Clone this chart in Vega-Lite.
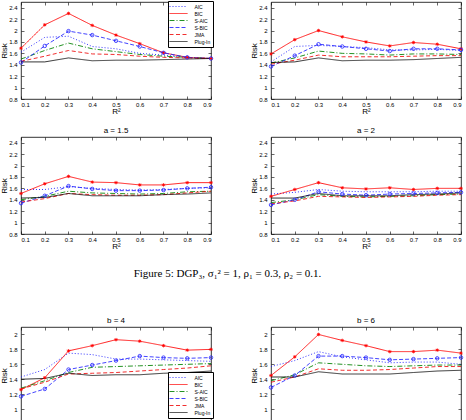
{
"$schema":"https://vega.github.io/schema/vega-lite/v6.json",
"background":"white",
"padding":{"left":0,"top":0,"right":0,"bottom":0},
"config":{
 "view":{"stroke":"black","strokeWidth":0.8},
 "font":"Liberation Sans",
 "axis":{"domain":false,"grid":false,"tickColor":"black","tickSize":-3,"tickWidth":0.6,"labelFontSize":6,"labelColor":"black","titleFontSize":8,"titleFontWeight":"normal","titleColor":"black","titlePadding":0,"labelFont":"Liberation Sans","titleFont":"Liberation Sans"},
 "axisX":{"labelPadding":5},
 "axisY":{"labelPadding":7},
 "title":{"fontSize":8,"fontWeight":"normal","offset":2,"color":"black","font":"Liberation Sans"}
},
"resolve":{"scale":{"color":"independent","strokeDash":"independent","strokeWidth":"independent"}},
"spacing":10,
"datasets":{"d":[
{"p":1,"m":"AIC","x":0.1,"y":1.62},{"p":1,"m":"AIC","x":0.2,"y":1.88},{"p":1,"m":"AIC","x":0.3,"y":1.90},{"p":1,"m":"AIC","x":0.4,"y":1.72},{"p":1,"m":"AIC","x":0.5,"y":1.68},{"p":1,"m":"AIC","x":0.6,"y":1.60},{"p":1,"m":"AIC","x":0.7,"y":1.57},{"p":1,"m":"AIC","x":0.8,"y":1.53},{"p":1,"m":"AIC","x":0.9,"y":1.51},
{"p":1,"m":"BIC","x":0.1,"y":1.69},{"p":1,"m":"BIC","x":0.2,"y":2.10},{"p":1,"m":"BIC","x":0.3,"y":2.30},{"p":1,"m":"BIC","x":0.4,"y":2.09},{"p":1,"m":"BIC","x":0.5,"y":1.92},{"p":1,"m":"BIC","x":0.6,"y":1.77},{"p":1,"m":"BIC","x":0.7,"y":1.61},{"p":1,"m":"BIC","x":0.8,"y":1.53},{"p":1,"m":"BIC","x":0.9,"y":1.51},
{"p":1,"m":"S-AIC","x":0.1,"y":1.50},{"p":1,"m":"S-AIC","x":0.2,"y":1.65},{"p":1,"m":"S-AIC","x":0.3,"y":1.78},{"p":1,"m":"S-AIC","x":0.4,"y":1.68},{"p":1,"m":"S-AIC","x":0.5,"y":1.63},{"p":1,"m":"S-AIC","x":0.6,"y":1.58},{"p":1,"m":"S-AIC","x":0.7,"y":1.55},{"p":1,"m":"S-AIC","x":0.8,"y":1.53},{"p":1,"m":"S-AIC","x":0.9,"y":1.51},
{"p":1,"m":"S-BIC","x":0.1,"y":1.44},{"p":1,"m":"S-BIC","x":0.2,"y":1.73},{"p":1,"m":"S-BIC","x":0.3,"y":1.99},{"p":1,"m":"S-BIC","x":0.4,"y":1.92},{"p":1,"m":"S-BIC","x":0.5,"y":1.82},{"p":1,"m":"S-BIC","x":0.6,"y":1.72},{"p":1,"m":"S-BIC","x":0.7,"y":1.61},{"p":1,"m":"S-BIC","x":0.8,"y":1.53},{"p":1,"m":"S-BIC","x":0.9,"y":1.51},
{"p":1,"m":"JMA","x":0.1,"y":1.46},{"p":1,"m":"JMA","x":0.2,"y":1.55},{"p":1,"m":"JMA","x":0.3,"y":1.65},{"p":1,"m":"JMA","x":0.4,"y":1.59},{"p":1,"m":"JMA","x":0.5,"y":1.58},{"p":1,"m":"JMA","x":0.6,"y":1.55},{"p":1,"m":"JMA","x":0.7,"y":1.53},{"p":1,"m":"JMA","x":0.8,"y":1.52},{"p":1,"m":"JMA","x":0.9,"y":1.51},
{"p":1,"m":"Plug-In","x":0.1,"y":1.45},{"p":1,"m":"Plug-In","x":0.2,"y":1.45},{"p":1,"m":"Plug-In","x":0.3,"y":1.52},{"p":1,"m":"Plug-In","x":0.4,"y":1.47},{"p":1,"m":"Plug-In","x":0.5,"y":1.48},{"p":1,"m":"Plug-In","x":0.6,"y":1.48},{"p":1,"m":"Plug-In","x":0.7,"y":1.49},{"p":1,"m":"Plug-In","x":0.8,"y":1.50},{"p":1,"m":"Plug-In","x":0.9,"y":1.51},
{"p":2,"m":"AIC","x":0.1,"y":1.45},{"p":2,"m":"AIC","x":0.2,"y":1.72},{"p":2,"m":"AIC","x":0.3,"y":1.74},{"p":2,"m":"AIC","x":0.4,"y":1.72},{"p":2,"m":"AIC","x":0.5,"y":1.70},{"p":2,"m":"AIC","x":0.6,"y":1.66},{"p":2,"m":"AIC","x":0.7,"y":1.66},{"p":2,"m":"AIC","x":0.8,"y":1.67},{"p":2,"m":"AIC","x":0.9,"y":1.65},
{"p":2,"m":"BIC","x":0.1,"y":1.59},{"p":2,"m":"BIC","x":0.2,"y":1.84},{"p":2,"m":"BIC","x":0.3,"y":2.00},{"p":2,"m":"BIC","x":0.4,"y":1.89},{"p":2,"m":"BIC","x":0.5,"y":1.80},{"p":2,"m":"BIC","x":0.6,"y":1.73},{"p":2,"m":"BIC","x":0.7,"y":1.79},{"p":2,"m":"BIC","x":0.8,"y":1.76},{"p":2,"m":"BIC","x":0.9,"y":1.68},
{"p":2,"m":"S-AIC","x":0.1,"y":1.43},{"p":2,"m":"S-AIC","x":0.2,"y":1.52},{"p":2,"m":"S-AIC","x":0.3,"y":1.64},{"p":2,"m":"S-AIC","x":0.4,"y":1.60},{"p":2,"m":"S-AIC","x":0.5,"y":1.59},{"p":2,"m":"S-AIC","x":0.6,"y":1.57},{"p":2,"m":"S-AIC","x":0.7,"y":1.59},{"p":2,"m":"S-AIC","x":0.8,"y":1.59},{"p":2,"m":"S-AIC","x":0.9,"y":1.58},
{"p":2,"m":"S-BIC","x":0.1,"y":1.37},{"p":2,"m":"S-BIC","x":0.2,"y":1.56},{"p":2,"m":"S-BIC","x":0.3,"y":1.76},{"p":2,"m":"S-BIC","x":0.4,"y":1.72},{"p":2,"m":"S-BIC","x":0.5,"y":1.68},{"p":2,"m":"S-BIC","x":0.6,"y":1.64},{"p":2,"m":"S-BIC","x":0.7,"y":1.68},{"p":2,"m":"S-BIC","x":0.8,"y":1.68},{"p":2,"m":"S-BIC","x":0.9,"y":1.66},
{"p":2,"m":"JMA","x":0.1,"y":1.41},{"p":2,"m":"JMA","x":0.2,"y":1.48},{"p":2,"m":"JMA","x":0.3,"y":1.57},{"p":2,"m":"JMA","x":0.4,"y":1.54},{"p":2,"m":"JMA","x":0.5,"y":1.54},{"p":2,"m":"JMA","x":0.6,"y":1.54},{"p":2,"m":"JMA","x":0.7,"y":1.55},{"p":2,"m":"JMA","x":0.8,"y":1.56},{"p":2,"m":"JMA","x":0.9,"y":1.56},
{"p":2,"m":"Plug-In","x":0.1,"y":1.44},{"p":2,"m":"Plug-In","x":0.2,"y":1.45},{"p":2,"m":"Plug-In","x":0.3,"y":1.52},{"p":2,"m":"Plug-In","x":0.4,"y":1.47},{"p":2,"m":"Plug-In","x":0.5,"y":1.48},{"p":2,"m":"Plug-In","x":0.6,"y":1.48},{"p":2,"m":"Plug-In","x":0.7,"y":1.49},{"p":2,"m":"Plug-In","x":0.8,"y":1.51},{"p":2,"m":"Plug-In","x":0.9,"y":1.53},
{"p":3,"m":"AIC","x":0.1,"y":1.58},{"p":3,"m":"AIC","x":0.2,"y":1.58},{"p":3,"m":"AIC","x":0.3,"y":1.63},{"p":3,"m":"AIC","x":0.4,"y":1.60},{"p":3,"m":"AIC","x":0.5,"y":1.58},{"p":3,"m":"AIC","x":0.6,"y":1.57},{"p":3,"m":"AIC","x":0.7,"y":1.58},{"p":3,"m":"AIC","x":0.8,"y":1.60},{"p":3,"m":"AIC","x":0.9,"y":1.61},
{"p":3,"m":"BIC","x":0.1,"y":1.51},{"p":3,"m":"BIC","x":0.2,"y":1.68},{"p":3,"m":"BIC","x":0.3,"y":1.81},{"p":3,"m":"BIC","x":0.4,"y":1.71},{"p":3,"m":"BIC","x":0.5,"y":1.70},{"p":3,"m":"BIC","x":0.6,"y":1.66},{"p":3,"m":"BIC","x":0.7,"y":1.66},{"p":3,"m":"BIC","x":0.8,"y":1.70},{"p":3,"m":"BIC","x":0.9,"y":1.70},
{"p":3,"m":"S-AIC","x":0.1,"y":1.40},{"p":3,"m":"S-AIC","x":0.2,"y":1.46},{"p":3,"m":"S-AIC","x":0.3,"y":1.55},{"p":3,"m":"S-AIC","x":0.4,"y":1.52},{"p":3,"m":"S-AIC","x":0.5,"y":1.51},{"p":3,"m":"S-AIC","x":0.6,"y":1.50},{"p":3,"m":"S-AIC","x":0.7,"y":1.51},{"p":3,"m":"S-AIC","x":0.8,"y":1.54},{"p":3,"m":"S-AIC","x":0.9,"y":1.55},
{"p":3,"m":"S-BIC","x":0.1,"y":1.34},{"p":3,"m":"S-BIC","x":0.2,"y":1.47},{"p":3,"m":"S-BIC","x":0.3,"y":1.64},{"p":3,"m":"S-BIC","x":0.4,"y":1.59},{"p":3,"m":"S-BIC","x":0.5,"y":1.56},{"p":3,"m":"S-BIC","x":0.6,"y":1.56},{"p":3,"m":"S-BIC","x":0.7,"y":1.57},{"p":3,"m":"S-BIC","x":0.8,"y":1.60},{"p":3,"m":"S-BIC","x":0.9,"y":1.62},
{"p":3,"m":"JMA","x":0.1,"y":1.36},{"p":3,"m":"JMA","x":0.2,"y":1.42},{"p":3,"m":"JMA","x":0.3,"y":1.51},{"p":3,"m":"JMA","x":0.4,"y":1.49},{"p":3,"m":"JMA","x":0.5,"y":1.48},{"p":3,"m":"JMA","x":0.6,"y":1.48},{"p":3,"m":"JMA","x":0.7,"y":1.49},{"p":3,"m":"JMA","x":0.8,"y":1.52},{"p":3,"m":"JMA","x":0.9,"y":1.55},
{"p":3,"m":"Plug-In","x":0.1,"y":1.43},{"p":3,"m":"Plug-In","x":0.2,"y":1.44},{"p":3,"m":"Plug-In","x":0.3,"y":1.51},{"p":3,"m":"Plug-In","x":0.4,"y":1.47},{"p":3,"m":"Plug-In","x":0.5,"y":1.47},{"p":3,"m":"Plug-In","x":0.6,"y":1.47},{"p":3,"m":"Plug-In","x":0.7,"y":1.49},{"p":3,"m":"Plug-In","x":0.8,"y":1.50},{"p":3,"m":"Plug-In","x":0.9,"y":1.52},
{"p":4,"m":"AIC","x":0.1,"y":1.50},{"p":4,"m":"AIC","x":0.2,"y":1.53},{"p":4,"m":"AIC","x":0.3,"y":1.58},{"p":4,"m":"AIC","x":0.4,"y":1.55},{"p":4,"m":"AIC","x":0.5,"y":1.54},{"p":4,"m":"AIC","x":0.6,"y":1.54},{"p":4,"m":"AIC","x":0.7,"y":1.54},{"p":4,"m":"AIC","x":0.8,"y":1.55},{"p":4,"m":"AIC","x":0.9,"y":1.55},
{"p":4,"m":"BIC","x":0.1,"y":1.46},{"p":4,"m":"BIC","x":0.2,"y":1.58},{"p":4,"m":"BIC","x":0.3,"y":1.70},{"p":4,"m":"BIC","x":0.4,"y":1.61},{"p":4,"m":"BIC","x":0.5,"y":1.59},{"p":4,"m":"BIC","x":0.6,"y":1.61},{"p":4,"m":"BIC","x":0.7,"y":1.58},{"p":4,"m":"BIC","x":0.8,"y":1.60},{"p":4,"m":"BIC","x":0.9,"y":1.60},
{"p":4,"m":"S-AIC","x":0.1,"y":1.35},{"p":4,"m":"S-AIC","x":0.2,"y":1.40},{"p":4,"m":"S-AIC","x":0.3,"y":1.49},{"p":4,"m":"S-AIC","x":0.4,"y":1.46},{"p":4,"m":"S-AIC","x":0.5,"y":1.45},{"p":4,"m":"S-AIC","x":0.6,"y":1.46},{"p":4,"m":"S-AIC","x":0.7,"y":1.47},{"p":4,"m":"S-AIC","x":0.8,"y":1.49},{"p":4,"m":"S-AIC","x":0.9,"y":1.50},
{"p":4,"m":"S-BIC","x":0.1,"y":1.31},{"p":4,"m":"S-BIC","x":0.2,"y":1.40},{"p":4,"m":"S-BIC","x":0.3,"y":1.54},{"p":4,"m":"S-BIC","x":0.4,"y":1.50},{"p":4,"m":"S-BIC","x":0.5,"y":1.48},{"p":4,"m":"S-BIC","x":0.6,"y":1.50},{"p":4,"m":"S-BIC","x":0.7,"y":1.51},{"p":4,"m":"S-BIC","x":0.8,"y":1.52},{"p":4,"m":"S-BIC","x":0.9,"y":1.53},
{"p":4,"m":"JMA","x":0.1,"y":1.33},{"p":4,"m":"JMA","x":0.2,"y":1.38},{"p":4,"m":"JMA","x":0.3,"y":1.46},{"p":4,"m":"JMA","x":0.4,"y":1.45},{"p":4,"m":"JMA","x":0.5,"y":1.44},{"p":4,"m":"JMA","x":0.6,"y":1.45},{"p":4,"m":"JMA","x":0.7,"y":1.46},{"p":4,"m":"JMA","x":0.8,"y":1.48},{"p":4,"m":"JMA","x":0.9,"y":1.49},
{"p":4,"m":"Plug-In","x":0.1,"y":1.43},{"p":4,"m":"Plug-In","x":0.2,"y":1.43},{"p":4,"m":"Plug-In","x":0.3,"y":1.51},{"p":4,"m":"Plug-In","x":0.4,"y":1.47},{"p":4,"m":"Plug-In","x":0.5,"y":1.47},{"p":4,"m":"Plug-In","x":0.6,"y":1.47},{"p":4,"m":"Plug-In","x":0.7,"y":1.49},{"p":4,"m":"Plug-In","x":0.8,"y":1.50},{"p":4,"m":"Plug-In","x":0.9,"y":1.52},
{"p":5,"m":"AIC","x":0.1,"y":1.43},{"p":5,"m":"AIC","x":0.2,"y":1.53},{"p":5,"m":"AIC","x":0.3,"y":1.75},{"p":5,"m":"AIC","x":0.4,"y":1.73},{"p":5,"m":"AIC","x":0.5,"y":1.67},{"p":5,"m":"AIC","x":0.6,"y":1.67},{"p":5,"m":"AIC","x":0.7,"y":1.66},{"p":5,"m":"AIC","x":0.8,"y":1.65},{"p":5,"m":"AIC","x":0.9,"y":1.64},
{"p":5,"m":"BIC","x":0.1,"y":1.26},{"p":5,"m":"BIC","x":0.2,"y":1.42},{"p":5,"m":"BIC","x":0.3,"y":1.78},{"p":5,"m":"BIC","x":0.4,"y":1.85},{"p":5,"m":"BIC","x":0.5,"y":1.93},{"p":5,"m":"BIC","x":0.6,"y":1.91},{"p":5,"m":"BIC","x":0.7,"y":1.85},{"p":5,"m":"BIC","x":0.8,"y":1.79},{"p":5,"m":"BIC","x":0.9,"y":1.80},
{"p":5,"m":"S-AIC","x":0.1,"y":1.28},{"p":5,"m":"S-AIC","x":0.2,"y":1.38},{"p":5,"m":"S-AIC","x":0.3,"y":1.49},{"p":5,"m":"S-AIC","x":0.4,"y":1.56},{"p":5,"m":"S-AIC","x":0.5,"y":1.57},{"p":5,"m":"S-AIC","x":0.6,"y":1.58},{"p":5,"m":"S-AIC","x":0.7,"y":1.59},{"p":5,"m":"S-AIC","x":0.8,"y":1.60},{"p":5,"m":"S-AIC","x":0.9,"y":1.61},
{"p":5,"m":"S-BIC","x":0.1,"y":1.17},{"p":5,"m":"S-BIC","x":0.2,"y":1.27},{"p":5,"m":"S-BIC","x":0.3,"y":1.53},{"p":5,"m":"S-BIC","x":0.4,"y":1.59},{"p":5,"m":"S-BIC","x":0.5,"y":1.65},{"p":5,"m":"S-BIC","x":0.6,"y":1.71},{"p":5,"m":"S-BIC","x":0.7,"y":1.69},{"p":5,"m":"S-BIC","x":0.8,"y":1.68},{"p":5,"m":"S-BIC","x":0.9,"y":1.69},
{"p":5,"m":"JMA","x":0.1,"y":1.27},{"p":5,"m":"JMA","x":0.2,"y":1.36},{"p":5,"m":"JMA","x":0.3,"y":1.47},{"p":5,"m":"JMA","x":0.4,"y":1.48},{"p":5,"m":"JMA","x":0.5,"y":1.49},{"p":5,"m":"JMA","x":0.6,"y":1.51},{"p":5,"m":"JMA","x":0.7,"y":1.53},{"p":5,"m":"JMA","x":0.8,"y":1.55},{"p":5,"m":"JMA","x":0.9,"y":1.58},
{"p":5,"m":"Plug-In","x":0.1,"y":1.40},{"p":5,"m":"Plug-In","x":0.2,"y":1.41},{"p":5,"m":"Plug-In","x":0.3,"y":1.48},{"p":5,"m":"Plug-In","x":0.4,"y":1.45},{"p":5,"m":"Plug-In","x":0.5,"y":1.46},{"p":5,"m":"Plug-In","x":0.6,"y":1.46},{"p":5,"m":"Plug-In","x":0.7,"y":1.48},{"p":5,"m":"Plug-In","x":0.8,"y":1.49},{"p":5,"m":"Plug-In","x":0.9,"y":1.51},
{"p":6,"m":"AIC","x":0.1,"y":1.57},{"p":6,"m":"AIC","x":0.2,"y":1.65},{"p":6,"m":"AIC","x":0.3,"y":1.77},{"p":6,"m":"AIC","x":0.4,"y":1.70},{"p":6,"m":"AIC","x":0.5,"y":1.66},{"p":6,"m":"AIC","x":0.6,"y":1.62},{"p":6,"m":"AIC","x":0.7,"y":1.63},{"p":6,"m":"AIC","x":0.8,"y":1.63},{"p":6,"m":"AIC","x":0.9,"y":1.60},
{"p":6,"m":"BIC","x":0.1,"y":1.45},{"p":6,"m":"BIC","x":0.2,"y":1.70},{"p":6,"m":"BIC","x":0.3,"y":2.00},{"p":6,"m":"BIC","x":0.4,"y":1.92},{"p":6,"m":"BIC","x":0.5,"y":1.85},{"p":6,"m":"BIC","x":0.6,"y":1.77},{"p":6,"m":"BIC","x":0.7,"y":1.77},{"p":6,"m":"BIC","x":0.8,"y":1.79},{"p":6,"m":"BIC","x":0.9,"y":1.75},
{"p":6,"m":"S-AIC","x":0.1,"y":1.38},{"p":6,"m":"S-AIC","x":0.2,"y":1.46},{"p":6,"m":"S-AIC","x":0.3,"y":1.62},{"p":6,"m":"S-AIC","x":0.4,"y":1.60},{"p":6,"m":"S-AIC","x":0.5,"y":1.58},{"p":6,"m":"S-AIC","x":0.6,"y":1.57},{"p":6,"m":"S-AIC","x":0.7,"y":1.58},{"p":6,"m":"S-AIC","x":0.8,"y":1.59},{"p":6,"m":"S-AIC","x":0.9,"y":1.59},
{"p":6,"m":"S-BIC","x":0.1,"y":1.29},{"p":6,"m":"S-BIC","x":0.2,"y":1.45},{"p":6,"m":"S-BIC","x":0.3,"y":1.71},{"p":6,"m":"S-BIC","x":0.4,"y":1.71},{"p":6,"m":"S-BIC","x":0.5,"y":1.69},{"p":6,"m":"S-BIC","x":0.6,"y":1.66},{"p":6,"m":"S-BIC","x":0.7,"y":1.67},{"p":6,"m":"S-BIC","x":0.8,"y":1.68},{"p":6,"m":"S-BIC","x":0.9,"y":1.69},
{"p":6,"m":"JMA","x":0.1,"y":1.36},{"p":6,"m":"JMA","x":0.2,"y":1.43},{"p":6,"m":"JMA","x":0.3,"y":1.54},{"p":6,"m":"JMA","x":0.4,"y":1.52},{"p":6,"m":"JMA","x":0.5,"y":1.52},{"p":6,"m":"JMA","x":0.6,"y":1.53},{"p":6,"m":"JMA","x":0.7,"y":1.55},{"p":6,"m":"JMA","x":0.8,"y":1.57},{"p":6,"m":"JMA","x":0.9,"y":1.57},
{"p":6,"m":"Plug-In","x":0.1,"y":1.43},{"p":6,"m":"Plug-In","x":0.2,"y":1.43},{"p":6,"m":"Plug-In","x":0.3,"y":1.50},{"p":6,"m":"Plug-In","x":0.4,"y":1.47},{"p":6,"m":"Plug-In","x":0.5,"y":1.47},{"p":6,"m":"Plug-In","x":0.6,"y":1.47},{"p":6,"m":"Plug-In","x":0.7,"y":1.49},{"p":6,"m":"Plug-In","x":0.8,"y":1.51},{"p":6,"m":"Plug-In","x":0.9,"y":1.52}
]},
"data":{"name":"d"},
"vconcat":[
{"hconcat":[
 {"width":190,"height":97,"transform":[{"filter":"datum.p == 1"}],
  "layer":[
   {"mark":{"type":"line","clip":true},
    "encoding":{
     "x":{"field":"x","type":"quantitative","scale":{"domain":[0.1,0.9],"nice":false,"zero":false},"axis":{"title":"R²","values":[0.1,0.2,0.3,0.4,0.5,0.6,0.7,0.8,0.9],"format":"~g"}},
     "y":{"field":"y","type":"quantitative","scale":{"domain":[0.8,2.5],"nice":false,"zero":false},"axis":{"title":"Risk","values":[0.8,1,1.2,1.4,1.6,1.8,2,2.2,2.4],"format":"~g"}},
     "color":{"field":"m","type":"nominal","scale":{"domain":["AIC","BIC","S-AIC","S-BIC","JMA","Plug-In"],"range":["#2020ff","#ff0000","#008000","#2020ff","#ee0000","#000000"]},"legend":{"title":null,"orient":"none","legendX":147,"legendY":-1,"symbolType":"M-3,0L3,0","symbolSize":36,"symbolOffset":5,"labelOffset":12.4,"labelFontSize":5,"strokeColor":"black","fillColor":"white","padding":2,"rowPadding":0,"labelExpr":"datum.label + '  '"}},
     "strokeDash":{"field":"m","type":"nominal","scale":{"domain":["AIC","BIC","S-AIC","S-BIC","JMA","Plug-In"],"range":[[1,2],[1,0],[5,2,1,2],[4,2],[4,2.5],[1,0]]},"legend":{"title":null,"orient":"none","legendX":147,"legendY":-1,"symbolType":"M-3,0L3,0","symbolSize":36,"symbolOffset":5,"labelOffset":12.4,"labelFontSize":5,"strokeColor":"black","fillColor":"white","padding":2,"rowPadding":0,"labelExpr":"datum.label + '  '"}},
     "strokeWidth":{"field":"m","type":"nominal","scale":{"domain":["AIC","BIC","S-AIC","S-BIC","JMA","Plug-In"],"range":[0.9,0.8,1.3,0.8,1.8,1.8]},"legend":{"title":null,"orient":"none","legendX":147,"legendY":-1,"symbolType":"M-3,0L3,0","symbolSize":36,"symbolOffset":5,"labelOffset":12.4,"labelFontSize":5,"strokeColor":"black","fillColor":"white","padding":2,"rowPadding":0,"labelExpr":"datum.label + '  '"}}
    }},
   {"transform":[{"filter":"datum.m == 'BIC'"}],
    "mark":{"type":"point","filled":false,"color":"#ff0000","size":12,"strokeWidth":0.8,"opacity":1,"shape":"M-1,0L1,0M0,-1L0,1M-0.7,-0.7L0.7,0.7M-0.7,0.7L0.7,-0.7"},
    "encoding":{"x":{"field":"x","type":"quantitative","axis":{"orient":"top","labels":false,"title":null,"values":[0.1,0.2,0.3,0.4,0.5,0.6,0.7,0.8,0.9]}},
     "y":{"field":"y","type":"quantitative","axis":{"orient":"right","labels":false,"title":null,"values":[0.8,1,1.2,1.4,1.6,1.8,2,2.2,2.4]}}}},
   {"transform":[{"filter":"datum.m == 'S-BIC'"}],
    "mark":{"type":"point","filled":false,"color":"#2020ff","size":12,"strokeWidth":0.8,"opacity":1},
    "encoding":{"x":{"field":"x","type":"quantitative","axis":null},"y":{"field":"y","type":"quantitative","axis":null}}}
  ],
  "resolve":{"axis":{"x":"independent","y":"independent"}}},
 {"width":190,"height":97,"transform":[{"filter":"datum.p == 2"}],
  "layer":[
   {"mark":{"type":"line","clip":true},
    "encoding":{
     "x":{"field":"x","type":"quantitative","scale":{"domain":[0.1,0.9],"nice":false,"zero":false},"axis":{"title":"R²","values":[0.1,0.2,0.3,0.4,0.5,0.6,0.7,0.8,0.9],"format":"~g"}},
     "y":{"field":"y","type":"quantitative","scale":{"domain":[0.8,2.5],"nice":false,"zero":false},"axis":{"title":"Risk","values":[0.8,1,1.2,1.4,1.6,1.8,2,2.2,2.4],"format":"~g"}},
     "color":{"field":"m","type":"nominal","scale":{"domain":["AIC","BIC","S-AIC","S-BIC","JMA","Plug-In"],"range":["#2020ff","#ff0000","#008000","#2020ff","#ee0000","#000000"]},"legend":null},
     "strokeDash":{"field":"m","type":"nominal","scale":{"domain":["AIC","BIC","S-AIC","S-BIC","JMA","Plug-In"],"range":[[1,2],[1,0],[5,2,1,2],[4,2],[4,2.5],[1,0]]},"legend":null},
     "strokeWidth":{"field":"m","type":"nominal","scale":{"domain":["AIC","BIC","S-AIC","S-BIC","JMA","Plug-In"],"range":[0.9,0.8,1.3,0.8,1.8,1.8]},"legend":null}
    }},
   {"transform":[{"filter":"datum.m == 'BIC'"}],
    "mark":{"type":"point","filled":false,"color":"#ff0000","size":12,"strokeWidth":0.8,"opacity":1,"shape":"M-1,0L1,0M0,-1L0,1M-0.7,-0.7L0.7,0.7M-0.7,0.7L0.7,-0.7"},
    "encoding":{"x":{"field":"x","type":"quantitative","axis":{"orient":"top","labels":false,"title":null,"values":[0.1,0.2,0.3,0.4,0.5,0.6,0.7,0.8,0.9]}},
     "y":{"field":"y","type":"quantitative","axis":{"orient":"right","labels":false,"title":null,"values":[0.8,1,1.2,1.4,1.6,1.8,2,2.2,2.4]}}}},
   {"transform":[{"filter":"datum.m == 'S-BIC'"}],
    "mark":{"type":"point","filled":false,"color":"#2020ff","size":12,"strokeWidth":0.8,"opacity":1},
    "encoding":{"x":{"field":"x","type":"quantitative","axis":null},"y":{"field":"y","type":"quantitative","axis":null}}}
  ],
  "resolve":{"axis":{"x":"independent","y":"independent"}}}
 ],"spacing":60,"bounds":"flush","resolve":{"scale":{"color":"independent","strokeDash":"independent","strokeWidth":"independent"}}},
{"hconcat":[
 {"width":190,"height":97,"title":"a = 1.5","transform":[{"filter":"datum.p == 3"}],
  "layer":[
   {"mark":{"type":"line","clip":true},
    "encoding":{
     "x":{"field":"x","type":"quantitative","scale":{"domain":[0.1,0.9],"nice":false,"zero":false},"axis":{"title":"R²","values":[0.1,0.2,0.3,0.4,0.5,0.6,0.7,0.8,0.9],"format":"~g"}},
     "y":{"field":"y","type":"quantitative","scale":{"domain":[0.8,2.5],"nice":false,"zero":false},"axis":{"title":"Risk","values":[0.8,1,1.2,1.4,1.6,1.8,2,2.2,2.4],"format":"~g"}},
     "color":{"field":"m","type":"nominal","scale":{"domain":["AIC","BIC","S-AIC","S-BIC","JMA","Plug-In"],"range":["#2020ff","#ff0000","#008000","#2020ff","#ee0000","#000000"]},"legend":null},
     "strokeDash":{"field":"m","type":"nominal","scale":{"domain":["AIC","BIC","S-AIC","S-BIC","JMA","Plug-In"],"range":[[1,2],[1,0],[5,2,1,2],[4,2],[4,2.5],[1,0]]},"legend":null},
     "strokeWidth":{"field":"m","type":"nominal","scale":{"domain":["AIC","BIC","S-AIC","S-BIC","JMA","Plug-In"],"range":[0.9,0.8,1.3,0.8,1.8,1.8]},"legend":null}
    }},
   {"transform":[{"filter":"datum.m == 'BIC'"}],
    "mark":{"type":"point","filled":false,"color":"#ff0000","size":12,"strokeWidth":0.8,"opacity":1,"shape":"M-1,0L1,0M0,-1L0,1M-0.7,-0.7L0.7,0.7M-0.7,0.7L0.7,-0.7"},
    "encoding":{"x":{"field":"x","type":"quantitative","axis":{"orient":"top","labels":false,"title":null,"values":[0.1,0.2,0.3,0.4,0.5,0.6,0.7,0.8,0.9]}},
     "y":{"field":"y","type":"quantitative","axis":{"orient":"right","labels":false,"title":null,"values":[0.8,1,1.2,1.4,1.6,1.8,2,2.2,2.4]}}}},
   {"transform":[{"filter":"datum.m == 'S-BIC'"}],
    "mark":{"type":"point","filled":false,"color":"#2020ff","size":12,"strokeWidth":0.8,"opacity":1},
    "encoding":{"x":{"field":"x","type":"quantitative","axis":null},"y":{"field":"y","type":"quantitative","axis":null}}}
  ],
  "resolve":{"axis":{"x":"independent","y":"independent"}}},
 {"width":190,"height":97,"title":"a = 2","transform":[{"filter":"datum.p == 4"}],
  "layer":[
   {"mark":{"type":"line","clip":true},
    "encoding":{
     "x":{"field":"x","type":"quantitative","scale":{"domain":[0.1,0.9],"nice":false,"zero":false},"axis":{"title":"R²","values":[0.1,0.2,0.3,0.4,0.5,0.6,0.7,0.8,0.9],"format":"~g"}},
     "y":{"field":"y","type":"quantitative","scale":{"domain":[0.8,2.5],"nice":false,"zero":false},"axis":{"title":"Risk","values":[0.8,1,1.2,1.4,1.6,1.8,2,2.2,2.4],"format":"~g"}},
     "color":{"field":"m","type":"nominal","scale":{"domain":["AIC","BIC","S-AIC","S-BIC","JMA","Plug-In"],"range":["#2020ff","#ff0000","#008000","#2020ff","#ee0000","#000000"]},"legend":null},
     "strokeDash":{"field":"m","type":"nominal","scale":{"domain":["AIC","BIC","S-AIC","S-BIC","JMA","Plug-In"],"range":[[1,2],[1,0],[5,2,1,2],[4,2],[4,2.5],[1,0]]},"legend":null},
     "strokeWidth":{"field":"m","type":"nominal","scale":{"domain":["AIC","BIC","S-AIC","S-BIC","JMA","Plug-In"],"range":[0.9,0.8,1.3,0.8,1.8,1.8]},"legend":null}
    }},
   {"transform":[{"filter":"datum.m == 'BIC'"}],
    "mark":{"type":"point","filled":false,"color":"#ff0000","size":12,"strokeWidth":0.8,"opacity":1,"shape":"M-1,0L1,0M0,-1L0,1M-0.7,-0.7L0.7,0.7M-0.7,0.7L0.7,-0.7"},
    "encoding":{"x":{"field":"x","type":"quantitative","axis":{"orient":"top","labels":false,"title":null,"values":[0.1,0.2,0.3,0.4,0.5,0.6,0.7,0.8,0.9]}},
     "y":{"field":"y","type":"quantitative","axis":{"orient":"right","labels":false,"title":null,"values":[0.8,1,1.2,1.4,1.6,1.8,2,2.2,2.4]}}}},
   {"transform":[{"filter":"datum.m == 'S-BIC'"}],
    "mark":{"type":"point","filled":false,"color":"#2020ff","size":12,"strokeWidth":0.8,"opacity":1},
    "encoding":{"x":{"field":"x","type":"quantitative","axis":null},"y":{"field":"y","type":"quantitative","axis":null}}}
  ],
  "resolve":{"axis":{"x":"independent","y":"independent"}}}
 ],"spacing":60,"bounds":"flush","resolve":{"scale":{"color":"independent","strokeDash":"independent","strokeWidth":"independent"}}},
{"width":413,"height":45,"view":{"stroke":null},"data":{"values":[{"t":"Figure 5: DGP₃, σ₁² = 1, ρ₁ = 0.3, ρ₂ = 0.1."}]},
 "mark":{"type":"text","font":"Liberation Serif","fontSize":11,"color":"black","dy":-10},
 "encoding":{"text":{"field":"t","type":"nominal"}}},
{"hconcat":[
 {"width":190,"height":97,"title":"b = 4","transform":[{"filter":"datum.p == 5"}],
  "layer":[
   {"mark":{"type":"line","clip":true},
    "encoding":{
     "x":{"field":"x","type":"quantitative","scale":{"domain":[0.1,0.9],"nice":false,"zero":false},"axis":{"title":"R²","values":[0.1,0.2,0.3,0.4,0.5,0.6,0.7,0.8,0.9],"format":"~g"}},
     "y":{"field":"y","type":"quantitative","scale":{"domain":[0.8,2.1],"nice":false,"zero":false},"axis":{"title":"Risk","values":[0.8,1,1.2,1.4,1.6,1.8,2],"format":"~g"}},
     "color":{"field":"m","type":"nominal","scale":{"domain":["AIC","BIC","S-AIC","S-BIC","JMA","Plug-In"],"range":["#2020ff","#ff0000","#008000","#2020ff","#ee0000","#000000"]},"legend":{"title":null,"orient":"none","legendX":147,"legendY":45,"symbolType":"M-3,0L3,0","symbolSize":36,"symbolOffset":5,"labelOffset":12.4,"labelFontSize":5,"strokeColor":"black","fillColor":"white","padding":2,"rowPadding":0,"labelExpr":"datum.label + '  '"}},
     "strokeDash":{"field":"m","type":"nominal","scale":{"domain":["AIC","BIC","S-AIC","S-BIC","JMA","Plug-In"],"range":[[1,2],[1,0],[5,2,1,2],[4,2],[4,2.5],[1,0]]},"legend":{"title":null,"orient":"none","legendX":147,"legendY":45,"symbolType":"M-3,0L3,0","symbolSize":36,"symbolOffset":5,"labelOffset":12.4,"labelFontSize":5,"strokeColor":"black","fillColor":"white","padding":2,"rowPadding":0,"labelExpr":"datum.label + '  '"}},
     "strokeWidth":{"field":"m","type":"nominal","scale":{"domain":["AIC","BIC","S-AIC","S-BIC","JMA","Plug-In"],"range":[0.9,0.8,1.3,0.8,1.8,1.8]},"legend":{"title":null,"orient":"none","legendX":147,"legendY":45,"symbolType":"M-3,0L3,0","symbolSize":36,"symbolOffset":5,"labelOffset":12.4,"labelFontSize":5,"strokeColor":"black","fillColor":"white","padding":2,"rowPadding":0,"labelExpr":"datum.label + '  '"}}
    }},
   {"transform":[{"filter":"datum.m == 'BIC'"}],
    "mark":{"type":"point","filled":false,"color":"#ff0000","size":12,"strokeWidth":0.8,"opacity":1,"shape":"M-1,0L1,0M0,-1L0,1M-0.7,-0.7L0.7,0.7M-0.7,0.7L0.7,-0.7"},
    "encoding":{"x":{"field":"x","type":"quantitative","axis":{"orient":"top","labels":false,"title":null,"values":[0.1,0.2,0.3,0.4,0.5,0.6,0.7,0.8,0.9]}},
     "y":{"field":"y","type":"quantitative","axis":{"orient":"right","labels":false,"title":null,"values":[0.8,1,1.2,1.4,1.6,1.8,2]}}}},
   {"transform":[{"filter":"datum.m == 'S-BIC'"}],
    "mark":{"type":"point","filled":false,"color":"#2020ff","size":12,"strokeWidth":0.8,"opacity":1},
    "encoding":{"x":{"field":"x","type":"quantitative","axis":null},"y":{"field":"y","type":"quantitative","axis":null}}}
  ],
  "resolve":{"axis":{"x":"independent","y":"independent"}}},
 {"width":190,"height":97,"title":"b = 6","transform":[{"filter":"datum.p == 6"}],
  "layer":[
   {"mark":{"type":"line","clip":true},
    "encoding":{
     "x":{"field":"x","type":"quantitative","scale":{"domain":[0.1,0.9],"nice":false,"zero":false},"axis":{"title":"R²","values":[0.1,0.2,0.3,0.4,0.5,0.6,0.7,0.8,0.9],"format":"~g"}},
     "y":{"field":"y","type":"quantitative","scale":{"domain":[0.8,2.1],"nice":false,"zero":false},"axis":{"title":"Risk","values":[0.8,1,1.2,1.4,1.6,1.8,2],"format":"~g"}},
     "color":{"field":"m","type":"nominal","scale":{"domain":["AIC","BIC","S-AIC","S-BIC","JMA","Plug-In"],"range":["#2020ff","#ff0000","#008000","#2020ff","#ee0000","#000000"]},"legend":null},
     "strokeDash":{"field":"m","type":"nominal","scale":{"domain":["AIC","BIC","S-AIC","S-BIC","JMA","Plug-In"],"range":[[1,2],[1,0],[5,2,1,2],[4,2],[4,2.5],[1,0]]},"legend":null},
     "strokeWidth":{"field":"m","type":"nominal","scale":{"domain":["AIC","BIC","S-AIC","S-BIC","JMA","Plug-In"],"range":[0.9,0.8,1.3,0.8,1.8,1.8]},"legend":null}
    }},
   {"transform":[{"filter":"datum.m == 'BIC'"}],
    "mark":{"type":"point","filled":false,"color":"#ff0000","size":12,"strokeWidth":0.8,"opacity":1,"shape":"M-1,0L1,0M0,-1L0,1M-0.7,-0.7L0.7,0.7M-0.7,0.7L0.7,-0.7"},
    "encoding":{"x":{"field":"x","type":"quantitative","axis":{"orient":"top","labels":false,"title":null,"values":[0.1,0.2,0.3,0.4,0.5,0.6,0.7,0.8,0.9]}},
     "y":{"field":"y","type":"quantitative","axis":{"orient":"right","labels":false,"title":null,"values":[0.8,1,1.2,1.4,1.6,1.8,2]}}}},
   {"transform":[{"filter":"datum.m == 'S-BIC'"}],
    "mark":{"type":"point","filled":false,"color":"#2020ff","size":12,"strokeWidth":0.8,"opacity":1},
    "encoding":{"x":{"field":"x","type":"quantitative","axis":null},"y":{"field":"y","type":"quantitative","axis":null}}}
  ],
  "resolve":{"axis":{"x":"independent","y":"independent"}}}
 ],"spacing":60,"bounds":"flush","resolve":{"scale":{"color":"independent","strokeDash":"independent","strokeWidth":"independent"}}}
]
}
